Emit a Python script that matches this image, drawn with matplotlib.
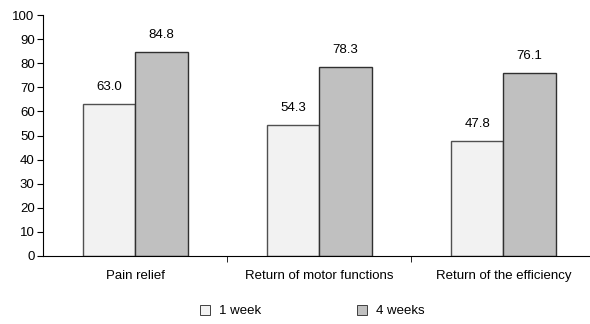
import numpy as np
import matplotlib.pyplot as plt

plt.rcParams['font.family'] = ['Liberation Sans', 'DejaVu Sans']

categories = ['Pain relief', 'Return of motor functions', 'Return of the efficiency']
week1 = [63.0, 54.3, 47.8]
week4 = [84.8, 78.3, 76.1]
series_names = ['1 week', '4 weeks']

fig = plt.figure(figsize=(5.9, 3.24), dpi=100)
ax = fig.add_axes([43 / 590, 1 - 256 / 324, 1 - 43 / 590, (256 - 15) / 324])

x = np.arange(len(categories))
w = 0.285
b1 = ax.bar(x - w / 2, week1, w, color='#f2f2f2', edgecolor='#505050', linewidth=1, label=series_names[0])
b2 = ax.bar(x + w / 2, week4, w, color='#c0c0c0', edgecolor='#303030', linewidth=1, label=series_names[1])

for bars, vals in ((b1, week1), (b2, week4)):
    for r, v in zip(bars, vals):
        ax.text(r.get_x() + r.get_width() / 2, v + 4.5, f'{v:.1f}', ha='center', va='bottom', fontsize=9.5)

ax.set_ylim(0, 100)
ax.set_yticks(range(0, 101, 10))
ax.set_xlim(-0.5, 2.47)
ax.set_xticks(x)
ax.set_xticklabels(categories, fontsize=9.5)
ax.tick_params(axis='x', length=0, pad=10)
ax.set_xticks([0.5, 1.5], minor=True)
ax.tick_params(axis='x', which='minor', length=4, direction='out')
ax.tick_params(axis='y', labelsize=9.5, length=4, pad=2)

for s in ['top', 'right']:
    ax.spines[s].set_visible(False)
for s in ['left', 'bottom']:
    ax.spines[s].set_linewidth(0.8)

handles = [plt.Line2D([], [], marker='s', linestyle='none', markersize=6.5,
                      markerfacecolor=c, markeredgecolor='#404040', markeredgewidth=0.7)
           for c in ('#f2f2f2', '#c0c0c0')]
fig.legend(handles, series_names, loc='center', bbox_to_anchor=(0.528, 1 - 311 / 324),
           ncol=2, frameon=False, fontsize=9.5, columnspacing=7.2, handletextpad=0.5,
           handlelength=1.0)

fig.savefig('out.png', dpi=100)
